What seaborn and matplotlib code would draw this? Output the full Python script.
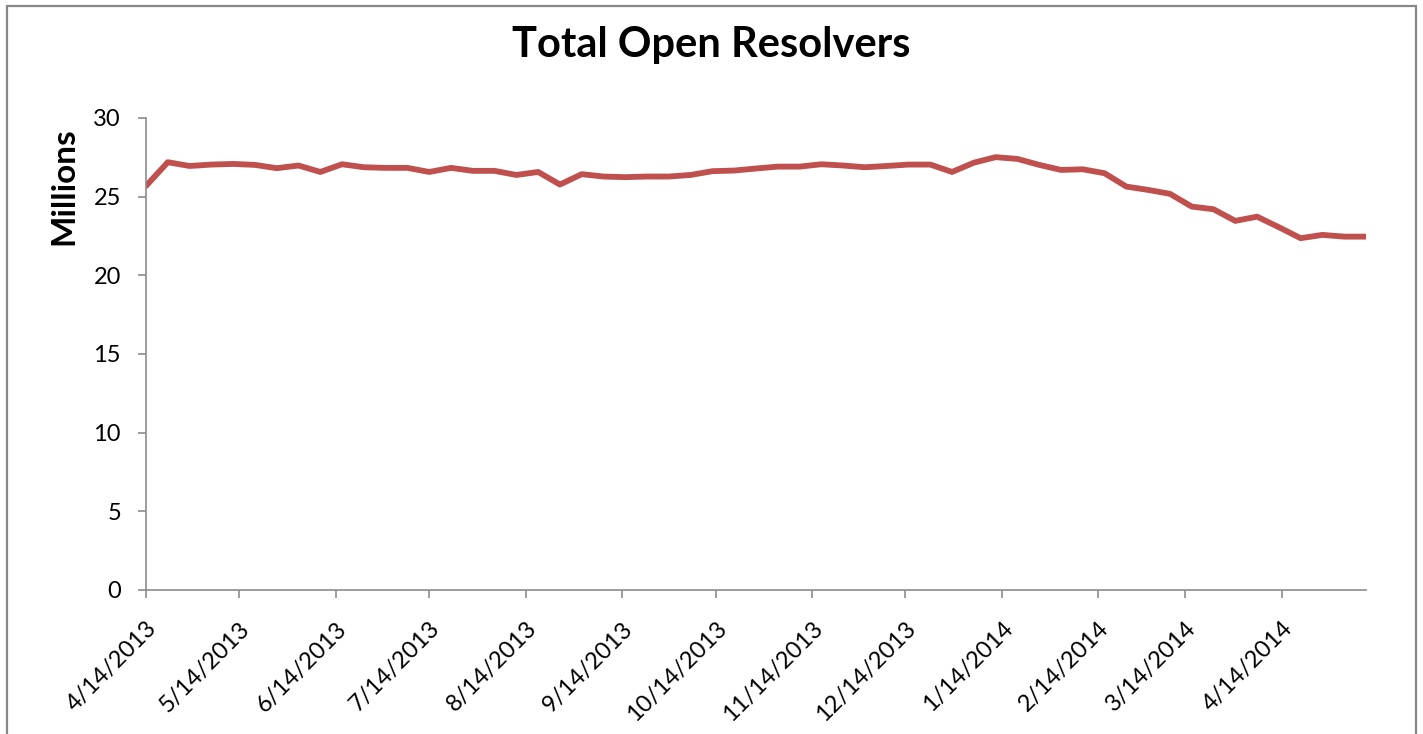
import pandas as pd
import matplotlib.pyplot as plt
import matplotlib.dates as mdates
from matplotlib.ticker import FuncFormatter
from matplotlib.patches import Rectangle
import seaborn as sns

# weekly scans, total open resolvers (millions)
start_date = "2013-04-14"
resolvers = [25.68, 27.19, 26.95, 27.04, 27.08, 27.02, 26.81, 26.98, 26.57, 27.06,
             26.87, 26.83, 26.83, 26.57, 26.83, 26.64, 26.64, 26.38, 26.57, 25.77,
             26.43, 26.28, 26.24, 26.28, 26.28, 26.38, 26.62, 26.66, 26.79, 26.91,
             26.91, 27.06, 26.98, 26.87, 26.95, 27.04, 27.04, 26.57, 27.16, 27.51,
             27.40, 27.02, 26.70, 26.74, 26.49, 25.64, 25.43, 25.18, 24.37, 24.20,
             23.46, 23.73, 23.06, 22.36, 22.57, 22.46, 22.46]
dates = pd.date_range(start_date, periods=len(resolvers), freq="7D")
y_ticks = [0, 5, 10, 15, 20, 25, 30]

sns.set_style("white")
plt.rcParams['font.family'] = ['Lato', 'DejaVu Sans']
plt.rcParams['text.color'] = 'black'
plt.rcParams['axes.labelcolor'] = 'black'

W, H = 1423, 734
fig = plt.figure(figsize=(W / 100, H / 100), dpi=100)
ax = fig.add_axes([146 / W, 1 - 590 / H, 1220 / W, 472 / H])

df = pd.DataFrame({"date": dates, "resolvers": resolvers})
sns.lineplot(data=df, x="date", y="resolvers", ax=ax, color="#C0504D", linewidth=4.2)

ax.set_xlim(dates[0], dates[-1])
ax.set_ylim(0, 30)
ax.set_yticks(y_ticks)

ax.xaxis.set_major_locator(mdates.MonthLocator(bymonthday=14))
ax.xaxis.set_major_formatter(FuncFormatter(
    lambda v, pos: "{d.month}/{d.day}/{d.year}".format(d=mdates.num2date(v))))

grey = "#8c8c8c"
for side in ["top", "right"]:
    ax.spines[side].set_visible(False)
for side in ["left", "bottom"]:
    ax.spines[side].set_color(grey)
    ax.spines[side].set_linewidth(1.2)

ax.tick_params(axis="both", direction="out", length=6, width=1.2, color=grey,
               labelsize=17, labelcolor="black")
ax.tick_params(axis="x", bottom=True, pad=14)
ax.tick_params(axis="y", left=True, pad=12)
for lbl in ax.get_xticklabels():
    lbl.set_rotation(45)
    lbl.set_ha("right")
    lbl.set_rotation_mode("anchor")

ax.set_xlabel("")
ax.set_ylabel("Millions", fontsize=24, fontweight="bold")
ax.yaxis.label.set_va("center")
ax.yaxis.set_label_coords(-0.067, 0.855)

fig.text(0.5, 1 - 57 / H, "Total Open Resolvers", ha="center", va="baseline",
         fontsize=30, fontweight="bold")

# chart-area border
fig.add_artist(Rectangle((7 / W, -0.05), 1409 / W, 1.05 - 6 / H,
                         transform=fig.transFigure, fill=False,
                         edgecolor="#888888", linewidth=1.6))

fig.savefig("out.png", dpi=100)
